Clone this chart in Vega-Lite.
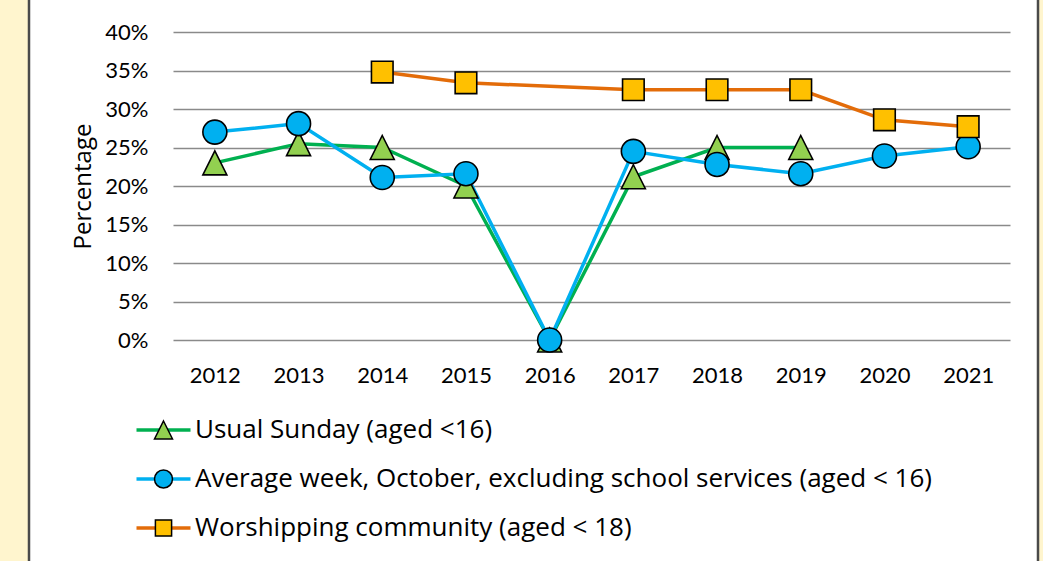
{
  "$schema": "https://vega.github.io/schema/vega-lite/v6.json",
  "width": 1009,
  "height": 581,
  "autosize": {"type": "none"},
  "padding": {"left": 29, "top": -10, "right": 5, "bottom": -10},
  "background": "#FFF5CE",
  "config": {
    "view": {"fill": "white", "stroke": "#4A4A4A", "strokeWidth": 2.5},
    "font": "Lato"
  },
  "data": {
    "values": [
      {"series": "Usual Sunday (aged <16)", "year": "2012", "pct": 0.23},
      {"series": "Usual Sunday (aged <16)", "year": "2013", "pct": 0.255},
      {"series": "Usual Sunday (aged <16)", "year": "2014", "pct": 0.25},
      {"series": "Usual Sunday (aged <16)", "year": "2015", "pct": 0.2},
      {"series": "Usual Sunday (aged <16)", "year": "2016", "pct": 0},
      {"series": "Usual Sunday (aged <16)", "year": "2017", "pct": 0.212},
      {"series": "Usual Sunday (aged <16)", "year": "2018", "pct": 0.25},
      {"series": "Usual Sunday (aged <16)", "year": "2019", "pct": 0.25},
      {"series": "Average week, October, excluding school services (aged < 16)", "year": "2012", "pct": 0.27},
      {"series": "Average week, October, excluding school services (aged < 16)", "year": "2013", "pct": 0.281},
      {"series": "Average week, October, excluding school services (aged < 16)", "year": "2014", "pct": 0.211},
      {"series": "Average week, October, excluding school services (aged < 16)", "year": "2015", "pct": 0.216},
      {"series": "Average week, October, excluding school services (aged < 16)", "year": "2016", "pct": 0},
      {"series": "Average week, October, excluding school services (aged < 16)", "year": "2017", "pct": 0.245},
      {"series": "Average week, October, excluding school services (aged < 16)", "year": "2018", "pct": 0.228},
      {"series": "Average week, October, excluding school services (aged < 16)", "year": "2019", "pct": 0.216},
      {"series": "Average week, October, excluding school services (aged < 16)", "year": "2020", "pct": 0.239},
      {"series": "Average week, October, excluding school services (aged < 16)", "year": "2021", "pct": 0.251},
      {"series": "Worshipping community (aged < 18)", "year": "2014", "pct": 0.348},
      {"series": "Worshipping community (aged < 18)", "year": "2015", "pct": 0.334},
      {"series": "Worshipping community (aged < 18)", "year": "2017", "pct": 0.325},
      {"series": "Worshipping community (aged < 18)", "year": "2018", "pct": 0.325},
      {"series": "Worshipping community (aged < 18)", "year": "2019", "pct": 0.325},
      {"series": "Worshipping community (aged < 18)", "year": "2020", "pct": 0.286},
      {"series": "Worshipping community (aged < 18)", "year": "2021", "pct": 0.277}
    ]
  },
  "encoding": {
    "x": {
      "field": "year",
      "type": "ordinal",
      "scale": {"type": "point", "padding": 0.5, "range": [144, 981]},
      "axis": {
        "orient": "bottom",
        "offset": -231,
        "domain": false,
        "ticks": false,
        "grid": false,
        "labelAngle": 0,
        "labelPadding": 25,
        "labelFontSize": 22,
        "labelColor": "black",
        "title": null
      }
    },
    "y": {
      "field": "pct",
      "type": "quantitative",
      "scale": {"domain": [0, 0.4], "range": [350, 42], "nice": false, "zero": true},
      "axis": {
        "orient": "left",
        "offset": -144,
        "values": [0, 0.05, 0.1, 0.15, 0.2, 0.25, 0.3, 0.35, 0.4],
        "format": ".0%",
        "domain": false,
        "ticks": false,
        "labelPadding": 25,
        "labelFontSize": 22,
        "labelColor": "black",
        "title": "Percentage",
        "titleFont": "Open Sans",
        "titleFontSize": 24,
        "titleFontWeight": "normal",
        "titleColor": "black",
        "titlePadding": 9,
        "grid": true,
        "gridColor": "#8A8A8A",
        "gridWidth": 1.6
      }
    }
  },
  "layer": [
    {
      "mark": {"type": "line", "strokeWidth": 3.5},
      "encoding": {
        "color": {
          "field": "series",
          "type": "nominal",
          "sort": ["Usual Sunday (aged <16)", "Average week, October, excluding school services (aged < 16)", "Worshipping community (aged < 18)"],
          "scale": {"range": ["#00B050", "#00B0F0", "#E36C09"]},
          "legend": {
            "orient": "none",
            "legendX": 121.5,
            "legendY": 427,
            "title": null,
            "padding": 0,
            "symbolType": "M-3,0H3",
            "symbolSize": 324,
            "symbolStrokeWidth": 3.5,
            "labelFont": "Open Sans",
            "labelFontSize": 26,
            "labelColor": "black",
            "labelOffset": 18.5,
            "labelLimit": 0,
            "rowPadding": 23
          }
        }
      }
    },
    {
      "mark": {"type": "point", "filled": true, "stroke": "black", "strokeWidth": 1.6, "opacity": 1, "size": 576},
      "encoding": {
        "shape": {
          "field": "series",
          "type": "nominal",
          "scale": {
            "domain": ["Usual Sunday (aged <16)", "Average week, October, excluding school services (aged < 16)", "Worshipping community (aged < 18)"],
            "range": ["M0,-1L1,1L-1,1Z", "circle", "M-0.9,-0.9H0.9V0.9H-0.9Z"]
          },
          "legend": {
            "orient": "none",
            "legendX": 121.5,
            "legendY": 427,
            "title": null,
            "padding": 0,
            "symbolSize": 324,
            "symbolStrokeColor": "black",
            "symbolStrokeWidth": 1.5,
            "symbolOpacity": 1,
            "labelFont": "Open Sans",
            "labelFontSize": 26,
            "labelOpacity": 0,
            "labelOffset": 18.5,
            "labelLimit": 0,
            "rowPadding": 23,
            "encode": {"symbols": {"update": {"stroke": {"value": "black"}, "strokeWidth": {"value": 1.5}}}}
          }
        },
        "fill": {
          "field": "series",
          "type": "nominal",
          "scale": {
            "domain": ["Usual Sunday (aged <16)", "Average week, October, excluding school services (aged < 16)", "Worshipping community (aged < 18)"],
            "range": ["#92D050", "#00B0F0", "#FFC000"]
          },
          "legend": {
            "orient": "none",
            "legendX": 121.5,
            "legendY": 427,
            "title": null,
            "padding": 0,
            "symbolSize": 324,
            "symbolStrokeColor": "black",
            "symbolStrokeWidth": 1.5,
            "symbolOpacity": 1,
            "labelFont": "Open Sans",
            "labelFontSize": 26,
            "labelOpacity": 0,
            "labelOffset": 18.5,
            "labelLimit": 0,
            "rowPadding": 23,
            "encode": {"symbols": {"update": {"stroke": {"value": "black"}, "strokeWidth": {"value": 1.5}}}}
          }
        }
      }
    }
  ]
}
